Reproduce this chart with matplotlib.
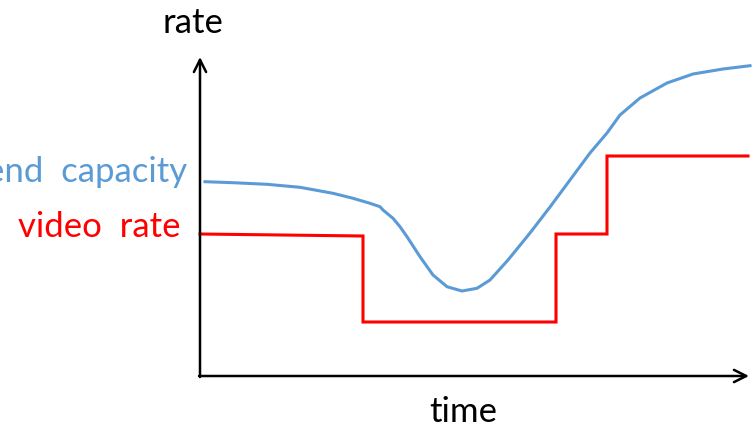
import matplotlib
matplotlib.use("Agg")
import matplotlib.pyplot as plt

# time / rate in screen-like units, origin at the axes corner
cap_t = [5, 33, 67, 100, 133, 153, 170, 180, 183, 193, 200, 207, 220, 233, 247,
         262, 277, 290, 308, 330, 350, 370, 390, 407, 420, 440, 467, 493, 523, 550]
cap_r = [194.3, 193.3, 191.7, 188.7, 182.7, 177.7, 172.7, 169.3, 166, 157.7,
         149.3, 139.3, 119.3, 101, 89.3, 85, 87.7, 96, 116, 143, 169, 196, 223,
         243, 261, 278, 293, 302, 307, 310.3]
video_t = [0, 163, 163, 356, 356, 407, 407, 548]
video_r = [142, 140, 54, 54, 142, 142, 220, 220]

BLUE = "#5B9BD5"
RED = "#FF0000"
FONT = ["Lato", "DejaVu Sans"]

fig = plt.figure(figsize=(7.55, 4.33), dpi=100)
ax = fig.add_axes([0, 0, 1, 1])
ax.set_xlim(-200, 555)
ax.set_ylim(-57, 376)
ax.axis("off")

ax.plot(cap_t, cap_r, color=BLUE, lw=2.2, solid_joinstyle="round")
ax.plot(video_t, video_r, color=RED, lw=2.2, solid_joinstyle="miter")

arrow = dict(arrowstyle="->", color="black", lw=1.8, mutation_scale=22,
             shrinkA=0, shrinkB=0)
ax.annotate("", xy=(0, 319), xytext=(0, -1), arrowprops=arrow)
ax.annotate("", xy=(549, 0), xytext=(-1, 0), arrowprops=arrow)

ax.text(-7, 343, "rate", fontsize=25, family=FONT, ha="center", va="baseline")
ax.text(263, -46, "time", fontsize=25, family=FONT, ha="center", va="baseline")
ax.text(-13, 194, "send  capacity", fontsize=25, family=FONT, color=BLUE,
        ha="right", va="baseline")
ax.text(-20, 139, "video  rate", fontsize=25, family=FONT, color=RED,
        ha="right", va="baseline")

fig.savefig("out.png", dpi=100)
